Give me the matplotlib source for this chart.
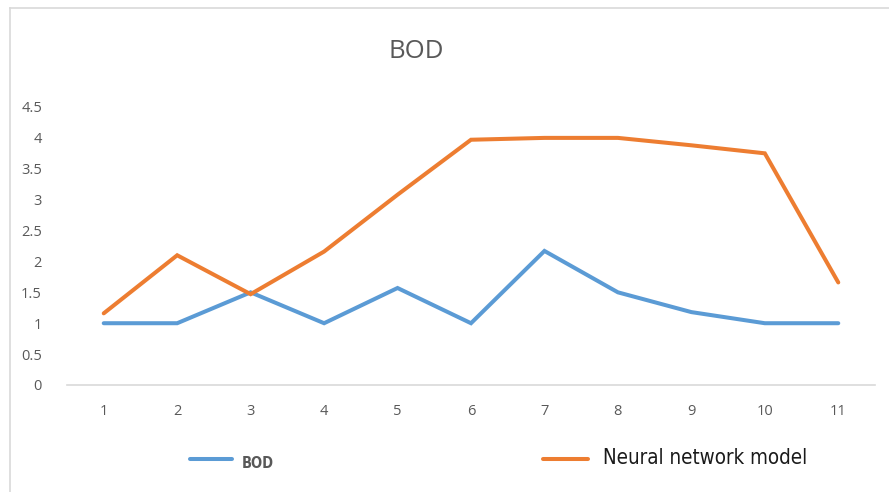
import matplotlib
matplotlib.use("Agg")
import matplotlib.pyplot as plt
from matplotlib.lines import Line2D

plt.rcParams['font.family'] = ['Open Sans', 'DejaVu Sans']

x = [1, 2, 3, 4, 5, 6, 7, 8, 9, 10, 11]
bod = [1, 1, 1.5, 1, 1.57, 1, 2.17, 1.5, 1.18, 1, 1]
nn_model = [1.16, 2.1, 1.47, 2.16, 3.08, 3.97, 4.0, 4.0, 3.88, 3.75, 1.66]
yticks = [0, 0.5, 1, 1.5, 2, 2.5, 3, 3.5, 4, 4.5]

blue = '#5B9BD5'
orange = '#ED7D31'
grey = '#595959'

fig = plt.figure(figsize=(8.89, 4.92), dpi=100)
ax = fig.add_axes([67/889, 1-385/492, (875-67)/889, (385-107)/492])

ax.plot(x, bod, color=blue, lw=2.9, solid_capstyle='round', solid_joinstyle='miter')
ax.plot(x, nn_model, color=orange, lw=2.9, solid_capstyle='round', solid_joinstyle='miter')

ax.set_xlim(0.5, 11.5)
ax.set_ylim(0, 4.5)
ax.set_xticks(x)
ax.set_xticklabels([str(v) for v in x])
ax.set_yticks(yticks)
ax.set_yticklabels(['0', '0.5', '1', '1.5', '2', '2.5', '3', '3.5', '4', '4.5'])
ax.tick_params(length=0, labelsize=10.5, colors=grey)
ax.tick_params(axis='x', pad=14)
ax.tick_params(axis='y', pad=18)
for s in ['top', 'right', 'left']:
    ax.spines[s].set_visible(False)
ax.spines['bottom'].set_color('#D9D9D9')
ax.spines['bottom'].set_linewidth(1.2)

fig.text(416/889, 1-52/492, 'BOD', ha='center', va='center', fontsize=18.5, color=grey)

# legend drawn by hand
fig.add_artist(Line2D([190/889, 232/889], [1-459/492]*2, color=blue, lw=2.9,
                      solid_capstyle='round'))
fig.text(242/889, 1-463/492, 'BOD', ha='left', va='center', fontsize=10.5,
         color=grey, family='DejaVu Sans', stretch='condensed', weight='bold')
fig.add_artist(Line2D([543/889, 588/889], [1-459/492]*2, color=orange, lw=2.9,
                      solid_capstyle='round'))
fig.text(603/889, 1-458/492, 'Neural network model', ha='left', va='center', fontsize=14.8,
         color='#1a1a1a', family='DejaVu Sans', stretch='condensed')

# chart frame edges
fig.add_artist(Line2D([10/889, 10/889], [0, 1-8/492], color='#D9D9D9', lw=1.2))
fig.add_artist(Line2D([10/889, 1], [1-8/492]*2, color='#D9D9D9', lw=1.2))

fig.savefig('out.png', dpi=100)
